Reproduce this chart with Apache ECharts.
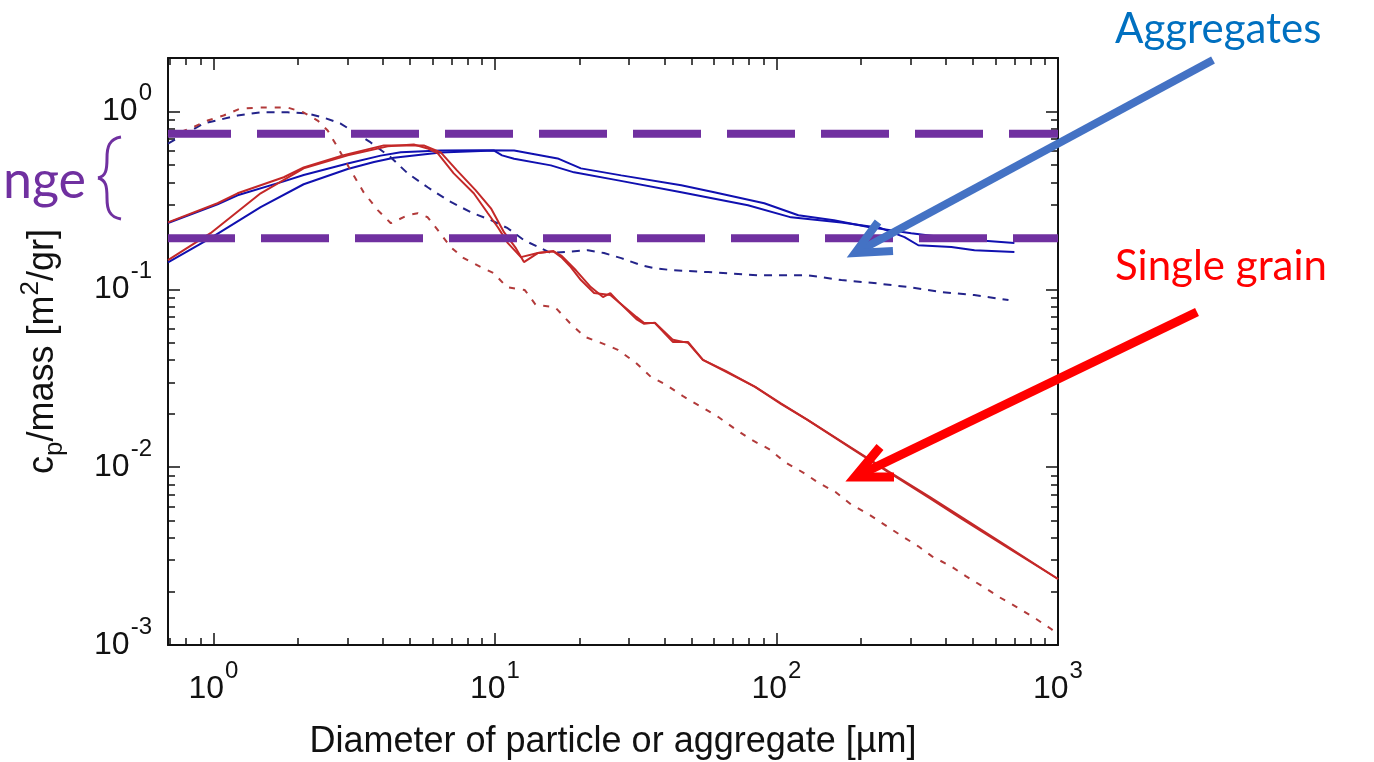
<!DOCTYPE html>
<html>
<head>
<meta charset="utf-8">
<script src="https://cdn.jsdelivr.net/npm/echarts@6/dist/echarts.min.js"></script>
<style>
  html, body { margin: 0; padding: 0; background: #fff; }
  #chart { width: 1374px; height: 762px; }
</style>
</head>
<body>
<div id="chart"></div>
<script>
// ---------- axis ranges & ticks ----------
const xRange = [0.69, 1000];
const yRange = [0.001, 2];
const xMajorTicks = [1, 10, 100, 1000];
const xMinorTicks = [0.7, 0.8, 0.9, 2, 3, 4, 5, 6, 7, 8, 9, 20, 30, 40, 50, 60, 70, 80, 90, 200, 300, 400, 500, 600, 700, 800, 900];
const yMajorTicks = [0.001, 0.01, 0.1, 1];
const yMinorTicks = [0.002, 0.003, 0.004, 0.005, 0.006, 0.007, 0.008, 0.009, 0.02, 0.03, 0.04, 0.05, 0.06, 0.07, 0.08, 0.09, 0.2, 0.3, 0.4, 0.5, 0.6, 0.7, 0.8, 0.9];
const xTitle = 'Diameter of particle or aggregate [µm]';

// ---------- series data: [diameter µm, cp/mass m2/gr] ----------
const aggregatesSolidA = [[0.69,0.236],[1.035,0.301],[1.219,0.338],[1.778,0.405],[2.093,0.44],[3.0,0.51],[3.93,0.565],[4.63,0.59],[6.42,0.604],[8.91,0.606],[11.7,0.604],[16.7,0.545],[20.2,0.479],[28.1,0.4375],[45.9,0.385],[60.1,0.352],[90.5,0.305],[119.6,0.261],[160,0.245],[212,0.224],[301,0.207],[418,0.194],[700,0.182]];
const aggregatesSolidB = [[0.69,0.142],[0.977,0.194],[1.472,0.29],[2.093,0.39],[3.0,0.475],[3.72,0.52],[4.38,0.55],[6.42,0.589],[8.9,0.6],[9.9,0.604],[10.6,0.567],[11.7,0.543],[15.8,0.498],[19.1,0.455],[27.4,0.41],[45.9,0.3515],[79.2,0.297],[112.7,0.254],[170,0.238],[235,0.221],[285,0.1965],[319,0.177],[418,0.173],[505,0.166],[700,0.162]];
const aggregatesDashed = [[0.69,0.66],[0.923,0.856],[1.219,0.95],[1.472,0.99],[1.836,0.99],[2.16,0.975],[2.46,0.925],[2.83,0.856],[3.62,0.67],[4.27,0.552],[4.9,0.449],[5.77,0.375],[6.8,0.317],[8.21,0.2714],[9.68,0.245],[11.1,0.2208],[12.68,0.189],[15.8,0.16],[21.4,0.166],[24.4,0.16],[28.1,0.1498],[33.0,0.1369],[36.8,0.1317],[42.3,0.1283],[57.2,0.125],[86.1,0.12],[129.6,0.12],[170,0.1128],[222,0.1085],[294,0.103],[385,0.0966],[504,0.0929],[667,0.0871]];
const singleSolidA = [[0.69,0.238],[1.035,0.305],[1.219,0.347],[1.778,0.427],[2.093,0.485],[2.88,0.567],[4.03,0.645],[5.59,0.645],[6.42,0.589],[7.33,0.467],[8.55,0.3605],[9.68,0.2857],[10.77,0.2097],[11.87,0.1704],[12.68,0.1423],[14.2,0.16],[16.1,0.164],[17.2,0.155],[19.4,0.128],[21.9,0.103],[24.2,0.0905],[25.7,0.0953],[27.5,0.085],[31.8,0.068],[33.9,0.064],[37.0,0.065],[42.9,0.052],[48.5,0.05],[54.8,0.0401],[66,0.0345],[84,0.0283],[104,0.0226],[128.5,0.0185],[184,0.0128],[249,0.0094],[350,0.0067],[457,0.0051],[650,0.0036],[1000,0.00235]];
const singleSolidB = [[0.69,0.146],[0.977,0.207],[1.472,0.347],[2.093,0.479],[3.0,0.567],[4.16,0.637],[5.15,0.653],[5.77,0.62],[6.27,0.581],[7.14,0.449],[8.41,0.347],[9.44,0.268],[10.24,0.2236],[11.12,0.182],[12.37,0.1518],[14.2,0.16],[16.1,0.164],[17.2,0.1518],[18.6,0.1334],[20.2,0.1128],[22.5,0.0953],[25.7,0.0929],[31.8,0.07],[33.9,0.0647],[37.0,0.0647],[42.9,0.0506],[48.5,0.0506],[54.8,0.0401],[66,0.0348],[84,0.0283],[104,0.0228],[128.5,0.0185],[184,0.0129],[249,0.0095],[350,0.0068],[457,0.0052],[650,0.00365],[1000,0.00235]];
const singleDashed = [[0.69,0.725],[0.83,0.803],[0.954,0.89],[1.087,0.95],[1.249,1.04],[1.472,1.053],[1.836,1.053],[2.093,0.987],[2.346,0.89],[2.547,0.782],[2.764,0.628],[3.074,0.467],[3.42,0.351],[3.835,0.279],[4.27,0.2355],[4.9,0.261],[5.32,0.268],[5.77,0.2543],[6.27,0.2153],[6.97,0.1727],[7.75,0.1498],[8.91,0.1334],[9.91,0.1234],[11.02,0.103],[12.77,0.0991],[13.98,0.0816],[16.33,0.0796],[18.46,0.0647],[20.88,0.054],[23.4,0.0506],[27.33,0.0457],[31.7,0.0386],[35.8,0.0322],[40.5,0.0291],[46.9,0.0249],[54.8,0.0216],[62,0.0192],[71.9,0.01625],[81.3,0.01428],[94.9,0.01256],[106.4,0.01075],[124.4,0.00933],[140.6,0.0082],[162.9,0.00721],[184,0.00617],[213,0.00542],[241,0.00477],[273,0.00419],[319,0.00359],[357,0.00315],[417,0.00277],[472,0.00243],[547,0.00211],[618,0.00186],[716,0.00163],[837,0.0014],[946,0.00123],[1000,0.00115]];
// purple "range" band limits
const rangeLimits = [0.75, 0.194];

// ---------- styling ----------
const TICK_FONT = "'Liberation Sans', Arial, sans-serif";
const TITLE_FONT = "'Liberation Sans', Arial, sans-serif";
const ANNOT_FONT = "Lato, 'Open Sans', sans-serif";
const PURPLE = '#7030A0';

const chart = echarts.init(document.getElementById('chart'), null, { renderer: 'canvas' });

function powLabel(v) {
  const e = Math.round(Math.log10(v));
  return '{b|10}{s|' + e + '}';
}
const tickRich = {
  b: { fontSize: 32, lineHeight: 32, fontFamily: TICK_FONT, color: '#111' },
  s: { fontSize: 24, lineHeight: 24, padding: [0, 0, 36, 1], fontFamily: TICK_FONT, color: '#111' }
};

function makeX(position, minor, withLabels) {
  return {
    type: 'log', logBase: 10, min: xRange[0], max: xRange[1], position: position,
    axisLine: { show: !minor, onZero: false, lineStyle: { color: '#111', width: 2 } },
    axisTick: { show: true, inside: true, length: minor ? 7 : 12, customValues: minor ? xMinorTicks : xMajorTicks, lineStyle: { color: '#111', width: 1.5 } },
    minorTick: { show: false },
    axisLabel: withLabels ? { show: true, customValues: xMajorTicks, formatter: powLabel, rich: tickRich, margin: 28 } : { show: false },
    splitLine: { show: false },
    name: withLabels ? xTitle : '',
    nameLocation: 'middle', nameGap: 78,
    nameTextStyle: { fontSize: 36, fontFamily: TITLE_FONT, color: '#111' }
  };
}
function makeY(position, minor, withLabels) {
  return {
    type: 'log', logBase: 10, min: yRange[0], max: yRange[1], position: position,
    axisLine: { show: !minor, onZero: false, lineStyle: { color: '#111', width: 2 } },
    axisTick: { show: true, inside: true, length: minor ? 7 : 12, customValues: minor ? yMinorTicks : yMajorTicks, lineStyle: { color: '#111', width: 1.5 } },
    minorTick: { show: false },
    axisLabel: withLabels ? { show: true, customValues: yMajorTicks, formatter: powLabel, rich: tickRich, margin: 16 } : { show: false },
    splitLine: { show: false },
    name: withLabels ? '{n|c}{sub|p}{n|/mass [m}{sup|2}{n|/gr]}' : '',
    nameLocation: 'middle', nameGap: 100, nameRotate: 90,
    nameTextStyle: {
      rich: {
        n: { fontSize: 36, lineHeight: 50, fontFamily: TITLE_FONT, color: '#111' },
        sub: { fontSize: 26, lineHeight: 18, verticalAlign: 'bottom', fontFamily: TITLE_FONT, color: '#111' },
        sup: { fontSize: 26, lineHeight: 18, verticalAlign: 'top', fontFamily: TITLE_FONT, color: '#111' }
      }
    }
  };
}

function lineSeries(name, data, color, dashed, z) {
  return {
    name: name, type: 'line', data: data, showSymbol: false, symbol: 'none',
    xAxisIndex: 0, yAxisIndex: 0, z: z || 2, clip: true,
    lineStyle: { color: color, width: 2, type: dashed ? dashed : 'solid' }
  };
}
function rangeSeries(val, offset) {
  return {
    type: 'line', data: [[xRange[0], val], [xRange[1], val]], showSymbol: false, symbol: 'none',
    xAxisIndex: 0, yAxisIndex: 0, z: 10, clip: false, silent: true,
    lineStyle: { color: PURPLE, width: 8, type: [68, 26], dashOffset: offset, cap: 'butt' }
  };
}
function bez(p) {
  return { type: 'bezierCurve', z: 100, shape: { x1: p[0], y1: p[1], cpx1: p[2], cpy1: p[3], cpx2: p[4], cpy2: p[5], x2: p[6], y2: p[7] },
           style: { fill: 'none', stroke: PURPLE, lineWidth: 3 } };
}

const option = {
  animation: false,
  backgroundColor: '#ffffff',
  grid: { left: 168, right: 316, top: 58, bottom: 117, containLabel: false, outerBoundsMode: 'none' },
  xAxis: [makeX('bottom', false, true), makeX('bottom', true, false), makeX('top', false, false), makeX('top', true, false)],
  yAxis: [makeY('left', false, true), makeY('left', true, false), makeY('right', false, false), makeY('right', true, false)],
  series: [
    lineSeries('Aggregates A', aggregatesSolidA, '#1010B0', null, 3),
    lineSeries('Aggregates B', aggregatesSolidB, '#1010B0', null, 3),
    lineSeries('Aggregates dashed', aggregatesDashed, '#23238A', [8, 7], 3),
    lineSeries('Single grain A', singleSolidA, '#C42828', null, 4),
    lineSeries('Single grain B', singleSolidB, '#C42828', null, 4),
    lineSeries('Single grain dashed', singleDashed, '#B23A3A', [6, 8], 4),
    rangeSeries(rangeLimits[0], 5),
    rangeSeries(rangeLimits[1], 1)
  ],
  graphic: [
    { type: 'text', z: 100, style: { x: 1115, y: 29, text: 'Aggregates', font: '42px ' + ANNOT_FONT, fill: '#0070C0', align: 'left', verticalAlign: 'middle' } },
    { type: 'text', z: 100, style: { x: 1115, y: 266, text: 'Single grain', font: '42px ' + ANNOT_FONT, fill: '#FF0000', align: 'left', verticalAlign: 'middle' } },
    { type: 'text', z: 100, style: { x: 86, y: 181, text: 'Range', font: '52px ' + ANNOT_FONT, fill: PURPLE, align: 'right', verticalAlign: 'middle' } },
    bez([121,137, 109,139, 107,147, 107,158]),
    bez([107,158, 107,170, 106,176, 98,178]),
    bez([98,178, 106,180, 107,186, 107,198]),
    bez([107,198, 107,209, 109,217, 121,219]),
    { type: 'polyline', z: 100, shape: { points: [[1213, 60], [857, 252]] }, style: { stroke: '#4472C4', lineWidth: 8, fill: 'none' } },
    { type: 'polyline', z: 100, shape: { points: [[878, 222], [855, 253], [893, 251]] }, style: { stroke: '#4472C4', lineWidth: 8, fill: 'none', lineJoin: 'miter' } },
    { type: 'polyline', z: 100, shape: { points: [[1197, 312], [857, 476]] }, style: { stroke: '#FF0000', lineWidth: 9, fill: 'none' } },
    { type: 'polyline', z: 100, shape: { points: [[880, 447], [855, 477], [894, 477]] }, style: { stroke: '#FF0000', lineWidth: 9, fill: 'none', lineJoin: 'miter' } }
  ]
};
chart.setOption(option);
</script>
</body>
</html>
